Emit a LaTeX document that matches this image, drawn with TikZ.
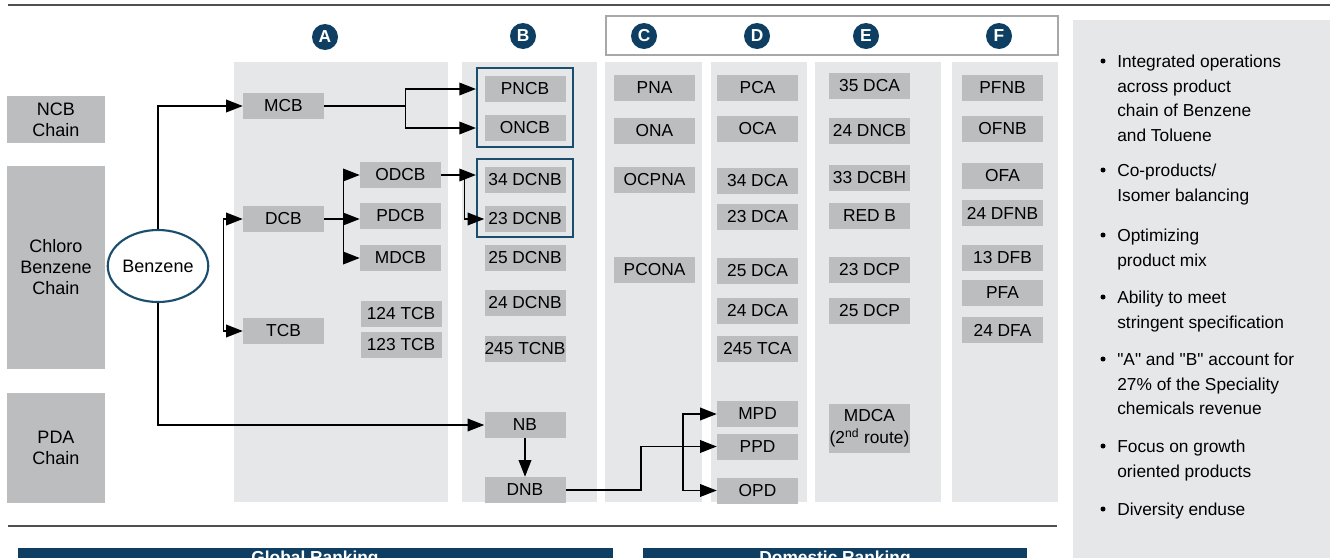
\documentclass[tikz,border=0pt]{standalone}
\usepackage{fontspec}
\setmainfont{Liberation Sans}[Ligatures=TeXOff]
\usetikzlibrary{arrows.meta,shapes.geometric}
\definecolor{navy}{HTML}{0E3F62}
\definecolor{colbg}{HTML}{E6E7E8}
\definecolor{boxg}{HTML}{BCBDBF}
\definecolor{bline}{HTML}{1B4D6E}
\definecolor{rulec}{HTML}{505050}
\definecolor{frame}{HTML}{A8A8A8}
\begin{document}
\begin{tikzpicture}[x=0.75pt,y=-0.75pt,
  bx/.style={fill=boxg,inner sep=0pt,minimum width=60.75pt,minimum height=19.5pt,font=\fontsize{13}{15}\selectfont},
  chainbox/.style={fill=boxg,inner sep=0pt,minimum width=73.5pt,align=center,font=\fontsize{13.5}{15.75}\selectfont},
  hc/.style={circle,fill=navy,text=white,inner sep=0pt,minimum size=19.5pt,font=\fontsize{13}{13}\selectfont\bfseries},
  arr/.style={line width=1.1pt,-{Triangle[length=12.5pt,width=9.5pt]}},
  arrtwo/.style={line width=1.1pt,{Triangle[length=12.5pt,width=9.5pt]}-{Triangle[length=12.5pt,width=9.5pt]}},
  grp/.style={draw=bline,line width=1.6pt,inner sep=0pt},
  bul/.style={anchor=north west,align=left,inner sep=0pt,font=\fontsize{13}{18.4}\selectfont},
  colrect/.style={fill=colbg},
  banner/.style={fill=navy},
  bantext/.style={text=white,font=\fontsize{13}{13}\selectfont\bfseries,inner sep=0pt},
]
\useasboundingbox (0,0) rectangle (1333,557);
\clip (0,0) rectangle (1333,557);

% rules and frames
\draw[rulec,line width=1.5pt] (8,5) -- (1330,5);
\draw[rulec,line width=1.5pt] (8,526) -- (1057,526);
\draw[frame,line width=1pt] (606,16) rectangle (1058,55);

% right panel
\fill[colbg] (1073,20) rectangle (1330,560);

% columns
\fill[colrect] (234,62) rectangle (448,502);
\fill[colrect] (462,62) rectangle (597,502);
\fill[colrect] (605,62) rectangle (702,502);
\fill[colrect] (711,62) rectangle (807,502);
\fill[colrect] (815,62) rectangle (941,502);
\fill[colrect] (952,62) rectangle (1058,502);

% headers
\node[hc] (hA) at (325,37) {A};
\node[hc] (hB) at (523,36) {B};
\node[hc] (hC) at (644,36) {C};
\node[hc] (hD) at (757,36) {D};
\node[hc] (hE) at (866,36) {E};
\node[hc] (hF) at (999,36) {F};

% chains
\node[chainbox,minimum height=35.25pt] (ncb) at (56,119.5) {NCB\\Chain};
\node[chainbox,minimum height=152.25pt] (chl) at (56,267.5) {Chloro\\Benzene\\Chain};
\node[chainbox,minimum height=82.5pt] (pda) at (56,448) {PDA\\Chain};

\node[ellipse,draw=bline,line width=1.6pt,fill=white,minimum width=72pt,minimum height=54pt,inner sep=0pt,font=\fontsize{13.5}{15}\selectfont] (benz) at (158,266) {Benzene};

% column A
\node[bx] (MCB) at (283.5,106) {MCB};
\node[bx] (DCB) at (283.5,219) {DCB};
\node[bx] (TCB) at (283.5,331) {TCB};
\node[bx] (ODCB) at (400.5,175) {ODCB};
\node[bx] (PDCB) at (400.5,216) {PDCB};
\node[bx] (MDCB) at (400.5,258) {MDCB};
\node[bx] (T124) at (401,314) {124 TCB};
\node[bx] (T123) at (401,345) {123 TCB};

% column B
\node[grp,minimum width=72pt,minimum height=59.25pt] (g1) at (525,107.5) {};
\node[grp,minimum width=72pt,minimum height=58.5pt] (g2) at (525,198) {};
\node[bx] (PNCB) at (525,89) {PNCB};
\node[bx] (ONCB) at (525,128) {ONCB};
\node[bx] (N34) at (525,180) {34 DCNB};
\node[bx] (N23) at (525,219) {23 DCNB};
\node[bx] (N25) at (525,258) {25 DCNB};
\node[bx] (N24) at (525,303) {24 DCNB};
\node[bx] (N245) at (525,349) {245 TCNB};
\node[bx] (NB) at (525,425) {NB};
\node[bx] (DNB) at (525,490) {DNB};

% column C
\node[bx] (PNA) at (654.5,88) {PNA};
\node[bx] (ONA) at (654.5,131) {ONA};
\node[bx] (OCPNA) at (654.5,180) {OCPNA};
\node[bx] (PCONA) at (654.5,269.5) {PCONA};

% column D
\node[bx] (PCA) at (757.5,88) {PCA};
\node[bx] (OCA) at (757.5,129) {OCA};
\node[bx] (A34) at (757.5,181) {34 DCA};
\node[bx] (A23) at (757.5,217) {23 DCA};
\node[bx] (A25) at (757.5,271) {25 DCA};
\node[bx] (A24) at (757.5,311) {24 DCA};
\node[bx] (A245) at (757.5,349) {245 TCA};
\node[bx] (MPD) at (757.5,414) {MPD};
\node[bx] (PPD) at (757.5,446.5) {PPD};
\node[bx] (OPD) at (757.5,490.5) {OPD};

% column E
\node[bx] (E35) at (869.5,86) {35 DCA};
\node[bx] (E24) at (869.5,131) {24 DNCB};
\node[bx] (E33) at (869.5,178) {33 DCBH};
\node[bx] (REDB) at (869.5,216) {RED B};
\node[bx] (P23) at (869.5,270) {23 DCP};
\node[bx] (P25) at (869.5,311) {25 DCP};
\node[bx,minimum height=36.75pt,align=center,font=\fontsize{13}{16.5}\selectfont] (MDCA) at (869.5,428.5) {MDCA\\(2\textsuperscript{nd} route)};

% column F
\node[bx] (PFNB) at (1002.5,88) {PFNB};
\node[bx] (OFNB) at (1002.5,129) {OFNB};
\node[bx] (OFA) at (1002.5,176) {OFA};
\node[bx] (F24) at (1002.5,213) {24 DFNB};
\node[bx] (F13) at (1002.5,258) {13 DFB};
\node[bx] (PFA) at (1002.5,293) {PFA};
\node[bx] (FA24) at (1002.5,330) {24 DFA};

% connectors
\draw[arr] (benz.north) |- (MCB.west);
\draw[arr] (benz.south) |- (NB.west);
\draw[arrtwo] (DCB.west) -- ++(-19,0) |- (TCB.west);
\draw[arr] (MCB.east) -- ++(81,0) |- (g1.west |- PNCB.west);
\draw[arr] (MCB.east) -- ++(81,0) |- (g1.west |- ONCB.west);
\draw[arr] (DCB.east) -- (PDCB.west |- DCB.east);
\draw[arr] (DCB.east) -- ++(19,0) |- (ODCB.west);
\draw[arr] (DCB.east) -- ++(19,0) |- (MDCB.west);
\draw[arr] (ODCB.east) -- (g2.west |- ODCB.east);
\draw[arr] (ODCB.east) -- ++(23,0) |- (N23.west);
\draw[arr] (NB.south) -- (DNB.north);
\draw[arr] (DNB.east) -- ++(75,0) |- (PPD.west);
\coordinate (jd) at (683,446.5);
\draw[arr] (jd) |- (MPD.west);
\draw[arr] (jd) |- (OPD.west);

% bullets
\fill (1103,61) circle (2.5);
\fill (1103,170) circle (2.5);
\fill (1103,235) circle (2.5);
\fill (1103,297) circle (2.5);
\fill (1103,359) circle (2.5);
\fill (1103,446) circle (2.5);
\fill (1103,509) circle (2.5);
\node[bul] (b1) at (1117,55) {Integrated operations\\across product\\chain of Benzene\\and Toluene};
\node[bul] (b2) at (1117,164) {Co-products/\\Isomer balancing};
\node[bul] (b3) at (1117,229) {Optimizing\\product mix};
\node[bul] (b4) at (1117,291) {Ability to meet\\stringent specification};
\node[bul] (b5) at (1117,353) {"A" and "B" account for\\27\% of the Speciality\\chemicals revenue};
\node[bul] (b6) at (1117,440) {Focus on growth\\oriented products};
\node[bul] (b7) at (1117,503) {Diversity enduse};

% banners
\fill[banner] (18,548) rectangle (613,575);
\fill[banner] (643,548) rectangle (1027,575);
\node[bantext] (glob) at (315,559.5) {Global Ranking};
\node[bantext] (dom) at (835,559.5) {Domestic Ranking};
\end{tikzpicture}
\end{document}
